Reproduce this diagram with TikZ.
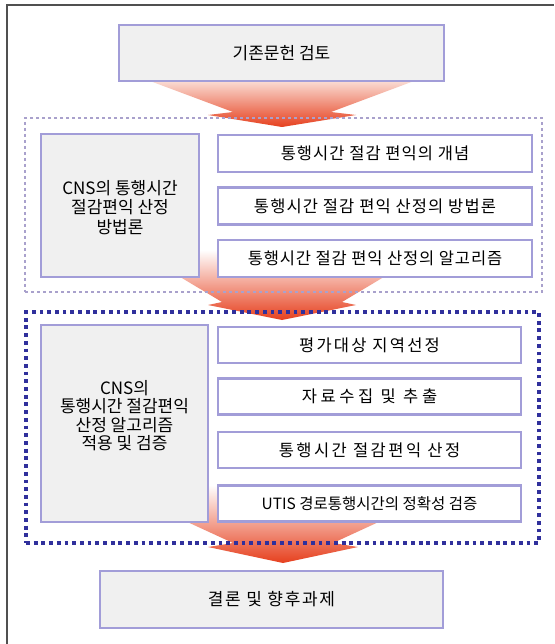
\documentclass[tikz,border=0pt]{standalone}
\usepackage{fontspec}
\setmainfont{Noto Sans CJK KR}
\definecolor{boxline}{HTML}{A29DD8}
\definecolor{graybox}{HTML}{F0F0F0}
\definecolor{grpA}{HTML}{A9A1CC}
\definecolor{grpB}{HTML}{30309C}
\definecolor{framecol}{HTML}{505050}
\definecolor{arrRed}{HTML}{E6401E}
\definecolor{arrMid}{HTML}{F29584}
\definecolor{arrTop}{HTML}{FADCD4}
\begin{document}
\begin{tikzpicture}[x=1pt,y=-1pt,
  blk/.style={draw=boxline, line width=2.5pt, fill=graybox, inner sep=0pt, align=center,
    font=\fontsize{17}{19.5}\selectfont},
  sub/.style={blk, fill=white, minimum width=314pt, minimum height=37pt},
  subb/.style={sub, minimum width=303pt, minimum height=36pt},
  sp/.style={font=\fontsize{16.5}{20}\selectfont\addfontfeature{LetterSpace=#1}},
  grpa/.style={draw=grpA, line width=2.8pt, dash pattern=on 2.8pt off 3.2pt, inner sep=0pt},
  grpb/.style={draw=grpB, line width=3.3pt, dash pattern=on 3.8pt off 3.9pt, inner sep=0pt},
  lbl/.style={inner sep=0pt, align=center}
]
\useasboundingbox (0,0) rectangle (554,644);
\fill[white] (0,0) rectangle (554,644);
% frame
\draw[framecol, line width=2pt] (7,644) -- (7,5) -- (554,5);
% block arrows (drawn first, behind everything)
\shade[top color=arrTop, middle color=arrMid, bottom color=arrRed]
  (150,81) -- (233,112) -- (208,115) -- (282,127) -- (356,115) -- (331,112) -- (414,81) -- cycle;
\shade[top color=white, middle color=arrMid, bottom color=arrRed]
  (135,250) -- (222,302) -- (208,305) -- (282,320) -- (356,305) -- (342,302) -- (429,250) -- cycle;
\shade[top color=white, middle color=arrMid, bottom color=arrRed]
  (107,485) -- (233,543) -- (208,547) -- (283,563) -- (358,547) -- (333,543) -- (459,485) -- cycle;
% group frames
\node[grpa, minimum width=517pt, minimum height=174pt] (g1) at (283.5,205) {};
\node[grpb, minimum width=513pt, minimum height=231pt] (g2) at (282.5,427.5) {};
% boxes
\node[blk, minimum width=325pt, minimum height=56pt] (top) at (281.5,53) {기존문헌 검토};
\node[blk, minimum width=158pt, minimum height=143pt] (l1) at (120,205.5) {};
\node[lbl, font=\fontsize{17}{19.5}\selectfont] (l1t) at (120,207.5)
  {CNS의 통행시간\\절감편익 산정\\방법론};
\node[sub, sp=6.3] (r11) at (375,153.5) {통행시간 절감 편익의 개념};
\node[sub, sp=6.9] (r12) at (375,206) {통행시간 절감 편익 산정의 방법론};
\node[sub, sp=5.2] (r13) at (375,258.5) {통행시간 절감 편익 산정의 알고리즘};
\node[blk, minimum width=167pt, minimum height=197pt] (l2) at (124.5,423.5) {};
\node[lbl, font=\fontsize{17}{18.5}\selectfont] (l2t) at (124.5,415.5)
  {CNS의\\통행시간 절감편익\\산정 알고리즘\\적용 및 검증};
\node[subb, sp=13.6] (r21) at (369.5,345) {평가대상 지역선정};
\node[subb, sp=22] (r22) at (369.5,396.5) {자료수집 및 추출};
\node[subb, sp=15] (r23) at (369.5,450) {통행시간 절감편익 산정};
\node[subb, font=\fontsize{15.5}{19}\selectfont] (r24) at (369.5,503.5) {UTIS 경로통행시간의 정확성 검증};
\node[blk, minimum width=343pt, minimum height=57pt,
  font=\fontsize{17}{20}\selectfont\addfontfeature{LetterSpace=9.8}] (bot) at (271.5,599.5) {결론 및 향후과제};
\end{tikzpicture}
\end{document}
